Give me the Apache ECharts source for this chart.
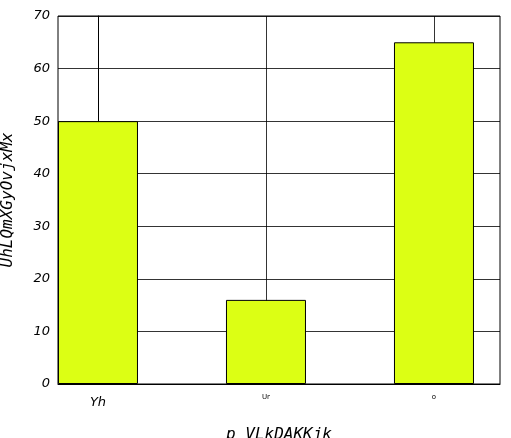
<!DOCTYPE html><html><head><script src="https://cdn.jsdelivr.net/npm/echarts@6/dist/echarts.min.js"></script></head><body style="margin:0"><div id="c" style="width:511px;height:438px"></div><script>
const categories=['Yh','Ur','o'];
const values=[50,16,65];
const ch=echarts.init(document.getElementById('c'));
const f='DejaVu Sans Mono';
ch.setOption({animation:false,
grid:{left:58,right:11,top:16,bottom:54,containLabel:false,outerBoundsMode:'none',show:true,borderColor:'#000',borderWidth:1},
xAxis:{type:'value',min:-0.238,max:2.393,
 name:'p VLkDAKKjk',nameLocation:'middle',nameGap:33,nameTextStyle:{fontFamily:f,fontStyle:'italic',fontSize:16,color:'#000'},
 axisLine:{lineStyle:{color:'#000'}},axisTick:{show:false},
 axisLabel:{customValues:[0,1,2],formatter:v=>{const i=Math.round(v);return i===0?'{a|'+categories[i]+'}':'{b|'+categories[i]+'}';},
  rich:{a:{fontFamily:'DejaVu Sans',fontStyle:'italic',fontSize:13,color:'#000'},b:{fontFamily:'DejaVu Sans',fontSize:7,color:'#000'}},margin:6},
 splitLine:{show:false}},
yAxis:{type:'value',min:0,max:70,interval:10,
 name:'UhLQmXGyOvjxMx',nameLocation:'middle',nameGap:36,nameTextStyle:{fontFamily:f,fontStyle:'italic',fontSize:16,color:'#000'},
 axisLine:{show:true,lineStyle:{color:'#000'}},axisTick:{show:false},
 axisLabel:{fontFamily:'DejaVu Sans',fontStyle:'italic',fontSize:13,color:'#000'},
 splitLine:{lineStyle:{color:'#000',width:0.8}}},
series:[{type:'bar',data:values.map((v,i)=>[i,v]),barWidth:80,itemStyle:{color:'#dcff14',borderColor:'#000',borderWidth:1},z:3,
 markLine:{silent:true,symbol:'none',label:{show:false},lineStyle:{color:'#000',type:'solid',width:0.8},z:1,
 data:categories.map((c,i)=>({xAxis:i}))}}]
});
</script></body></html>
